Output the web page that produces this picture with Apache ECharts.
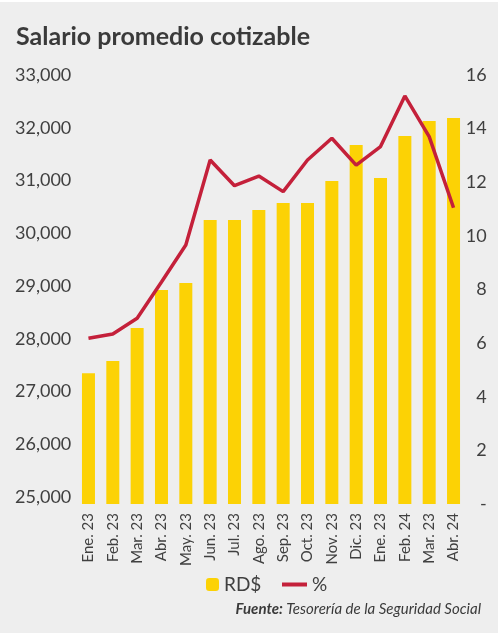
<!DOCTYPE html>
<html>
<head>
<meta charset="utf-8">
<script src="https://cdn.jsdelivr.net/npm/echarts@6/dist/echarts.min.js"></script>
<style>
html,body{margin:0;padding:0;background:#ffffff;}
#wrap{position:absolute;left:0;top:2px;width:498px;height:631px;background:#eeeeee;}
#chart{width:498px;height:631px;}
</style>
</head>
<body>
<div id="wrap"><div id="chart"></div></div>
<script>
const categories = ['Ene. 23','Feb. 23','Mar. 23','Abr. 23','May. 23','Jun. 23','Jul. 23','Ago. 23','Sep. 23','Oct. 23','Nov. 23','Dic. 23','Ene. 23','Feb. 24','Mar. 23','Abr. 24'];
const salario = [27345,27578,28204,28924,29057,30251,30251,30441,30573,30573,30991,31673,31047,31844,32128,32185];
const porcentaje = [6.18,6.34,6.93,8.28,9.66,12.83,11.87,12.23,11.65,12.83,13.64,12.64,13.33,15.22,13.70,11.05];
const leftTickLabels = [25000,26000,27000,28000,29000,30000,31000,32000,33000];
const leftRange = {min:24867, max:33000};
const rightTicks = {min:0, max:16, interval:2};

const chart = echarts.init(document.getElementById('chart'));
const txt = '#404040';
chart.setOption({
  backgroundColor: '#eeeeee',
  animation: false,
  title: {
    text: 'Salario promedio cotizable',
    left: 11, top: 17,
    textStyle: {fontFamily: 'Lato', fontWeight: 'bold', fontSize: 25, color: '#3a3a3a'}
  },
  grid: {left: 76.3, right: 32.3, top: 73, bottom: 129},
  legend: [{
    data: ['RD$'], left: 201, top: 568, itemWidth: 13, itemHeight: 13, itemGap: 5,
    textStyle: {fontFamily: 'Lato', fontSize: 19, color: txt}
  },{
    data: [{name: '%', icon: 'rect'}], left: 277, top: 568, itemWidth: 25, itemHeight: 4,
    textStyle: {fontFamily: 'Lato', fontSize: 19, color: txt}
  }],
  graphic: [{
    type: 'text', right: 17, top: 600,
    style: {
      rich: {
        b: {fontFamily: 'Lato', fontStyle: 'italic', fontWeight: 'bold', fontSize: 15, fill: '#3a3a3a'},
        n: {fontFamily: 'Lato', fontStyle: 'italic', fontSize: 15, fill: '#3a3a3a'}
      },
      text: '{b|Fuente:} {n|Tesorería de la Seguridad Social}'
    }
  }],
  xAxis: {
    type: 'category', data: categories,
    axisLine: {show: false}, axisTick: {show: false},
    axisLabel: {rotate: 90, interval: 0, margin: 9, fontFamily: 'Lato', fontSize: 15, color: txt}
  },
  yAxis: [{
    type: 'value', min: leftRange.min, max: leftRange.max,
    splitLine: {show: false}, axisLine: {show: false}, axisTick: {show: false},
    axisLabel: {margin: 5, fontFamily: 'Lato', fontSize: 18, color: txt,
      customValues: leftTickLabels,
      formatter: v => Math.round(v).toLocaleString('en-US')}
  },{
    type: 'value', min: rightTicks.min, max: rightTicks.max, interval: rightTicks.interval,
    position: 'right',
    splitLine: {show: false}, axisLine: {show: false}, axisTick: {show: false},
    axisLabel: {margin: 21, align: 'right', fontFamily: 'Lato', fontSize: 18, color: txt,
      formatter: v => v === 0 ? '-' : String(v)}
  }],
  series: [{
    name: 'RD$', type: 'bar', data: salario, barWidth: 13,
    itemStyle: {color: '#fcd205'}
  },{
    name: '%', type: 'line', yAxisIndex: 1, data: porcentaje,
    symbol: 'none', lineStyle: {color: '#c4203a', width: 3.5},
    itemStyle: {color: '#c4203a'}
  }]
});
</script>
</body>
</html>
